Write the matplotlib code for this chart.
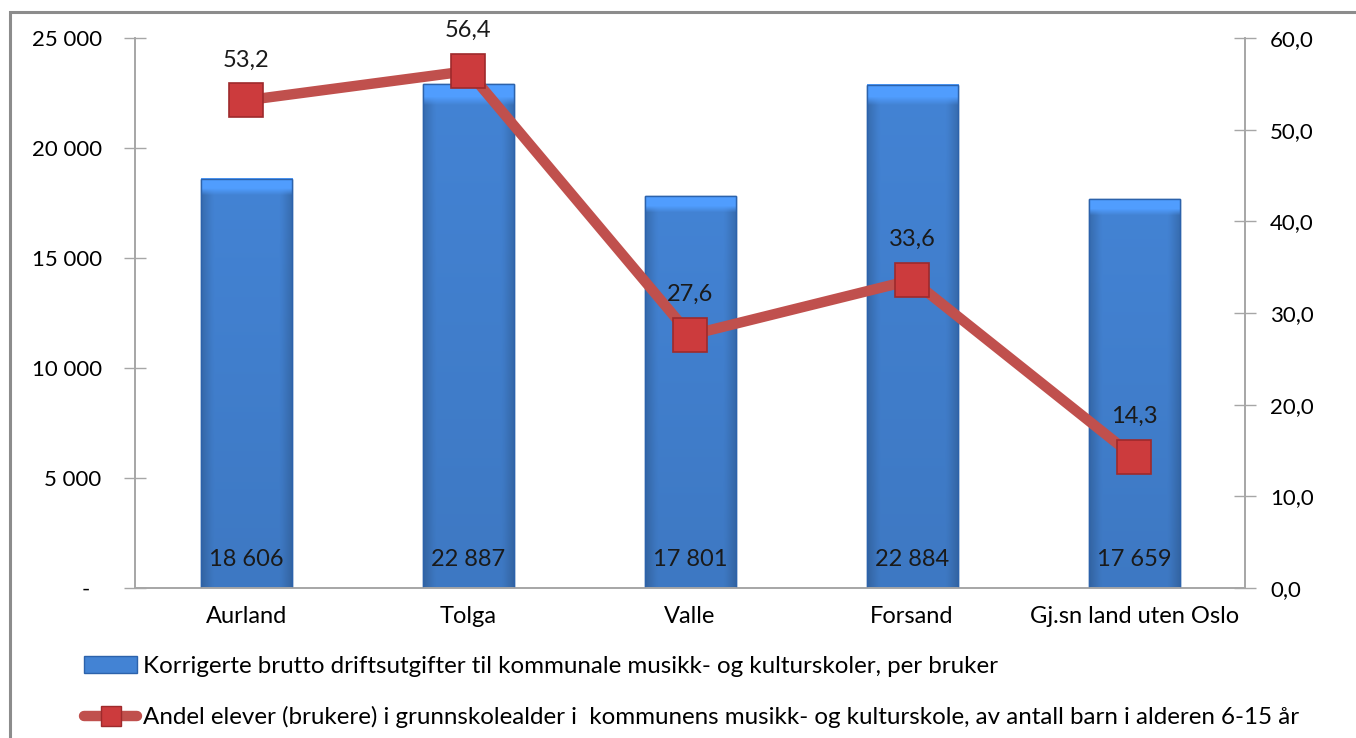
import numpy as np
import matplotlib
matplotlib.use("Agg")
import matplotlib.pyplot as plt
from matplotlib.colors import to_rgb
from matplotlib.patches import Patch, Rectangle
from matplotlib.lines import Line2D
from matplotlib.ticker import FuncFormatter, MultipleLocator

plt.rcParams['font.family'] = ['Lato', 'DejaVu Sans']

kommuner = ["Aurland", "Tolga", "Valle", "Forsand", "Gj.sn land uten Oslo"]
utgifter = [18606, 22887, 17801, 22884, 17659]
andel = [53.2, 56.4, 27.6, 33.6, 14.3]

bar_label = "Korrigerte brutto driftsutgifter til kommunale musikk- og kulturskoler, per bruker"
line_label = ("Andel elever (brukere) i grunnskolealder i  kommunens musikk- og kulturskole, "
              "av antall barn i alderen 6-15 år")

bar_color = "#4383d4"
bar_edge = "#2c62ab"
line_color = "#c0504d"
marker_color = "#cc3b3d"
marker_edge = "#9e2a2c"
axis_gray = "#a6a6a6"
fs = 17
tick_fs = 16


def space_thousands(v, pos=None):
    if v == 0:
        return "-  "
    return f"{v:,.0f}".replace(",", " ")


def comma_one(v, pos=None):
    return f"{v:.1f}".replace(".", ",")


def bar_shading(n_rows=60, n_cols=30):
    # darker sides and a slightly darker foot, like a bevelled column
    base = np.array(to_rgb(bar_color))
    cols = np.linspace(-1, 1, n_cols)
    side = 1.0 - 0.16 * np.clip(np.abs(cols) - 0.75, 0, None) / 0.25
    rows = np.linspace(0, 1, n_rows)
    foot = 1.0 - 0.08 * rows
    img = base[None, None, :] * side[None, :, None] * foot[:, None, None]
    img[:2] = np.clip(base * 1.2, 0, 1)
    return np.clip(img, 0, 1)


fig = plt.figure(figsize=(13.56, 7.38), dpi=100)
ax = fig.add_axes([0.0996, 0.2033, 0.8186, 0.7452])
ax2 = ax.twinx()

x = list(range(len(kommuner)))
bars = ax.bar(x, utgifter, width=0.41, color=bar_color, edgecolor=bar_edge,
              linewidth=1.0, zorder=2)
shade = bar_shading()
for rect in bars:
    x0, w, h = rect.get_x(), rect.get_width(), rect.get_height()
    ax.imshow(shade, extent=(x0, x0 + w, 0, h), aspect="auto", zorder=2.5,
              interpolation="bilinear")
    ax.add_patch(Rectangle((x0, 0), w, h, fill=False, edgecolor=bar_edge,
                           linewidth=1.0, zorder=2.6))

for xi, v in zip(x, utgifter):
    ax.text(xi, 1300, space_thousands(v), ha="center", va="center",
            fontsize=fs, color="#1a1a1a", zorder=4)

ax2.plot(x, andel, color=line_color, lw=7.5, solid_capstyle="round", zorder=5)
ax2.plot(x, andel, ls="none", marker="s", ms=25, mfc=marker_color, mec=marker_edge,
         mew=1.2, zorder=6)
for xi, v in zip(x, andel):
    ax2.text(xi, v + 4.4, comma_one(v), ha="center", va="center", fontsize=fs,
             color="#1a1a1a", zorder=7)

ax.set_xlim(-0.5, len(kommuner) - 0.5)
ax.set_ylim(0, 25000)
ax2.set_ylim(0, 60)
ax.yaxis.set_major_locator(MultipleLocator(5000))
ax2.yaxis.set_major_locator(MultipleLocator(10))
ax.yaxis.set_major_formatter(FuncFormatter(space_thousands))
ax2.yaxis.set_major_formatter(FuncFormatter(comma_one))

ax.set_xticks(x)
ax.set_xticklabels(kommuner, fontsize=fs)
ax.tick_params(axis="x", length=0, pad=13)
ax.tick_params(axis="y", direction="inout", length=16, width=1, color=axis_gray,
               labelsize=tick_fs, pad=16)
ax2.tick_params(axis="y", direction="inout", length=16, width=1, color=axis_gray,
                labelsize=tick_fs, pad=10)

for a in (ax, ax2):
    a.spines["top"].set_visible(False)
    for s in ("left", "right", "bottom"):
        a.spines[s].set_color(axis_gray)
        a.spines[s].set_linewidth(1.2)
ax.set_zorder(ax2.get_zorder() - 1)
ax2.patch.set_visible(False)

handles = [
    Patch(facecolor=bar_color, edgecolor=bar_edge, linewidth=1.0),
    Line2D([0], [0], color=line_color, lw=7.5, marker="s", ms=14,
           mfc=marker_color, mec=marker_edge, solid_capstyle="round"),
]
fig.legend(handles, [bar_label, line_label], loc="upper left",
           bbox_to_anchor=(0.062, 0.111), frameon=False, fontsize=17.4,
           handlelength=2.2, handletextpad=0.25, labelspacing=1.2,
           borderaxespad=0, borderpad=0)

# outer chart frame
fig.patches.append(Rectangle((10 / 1356, -0.05), 1.2, 1 - 12 / 738 + 0.05,
                             transform=fig.transFigure, fill=False,
                             edgecolor="#8c8c8c", linewidth=2.2))

fig.savefig("out.png", dpi=100)
